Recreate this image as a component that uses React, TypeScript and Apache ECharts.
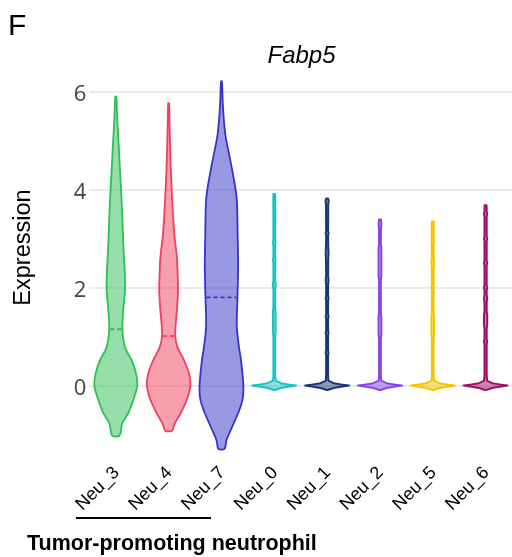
import React, { useEffect, useRef } from 'react';
import * as echarts from 'echarts';

const panelLabel = 'F';
const chartTitle = 'Fabp5';
const yAxisName = 'Expression';
const groupLabel = 'Tumor-promoting neutrophil';

const categories = ['Neu_3', 'Neu_4', 'Neu_7', 'Neu_0', 'Neu_1', 'Neu_2', 'Neu_5', 'Neu_6'];
const colors = ['#2fbf55', '#f0405c', '#3434c8', '#18c4be', '#1e3575', '#8a44e4', '#f7c400', '#a01060'];
const medians = [1.15, 1.01, 1.8, null, null, null, null, null];
const yTicks = [0, 2, 4, 6];

// density profiles: [expression value, relative half-width]
const profNeu3 = [[-1.02, 0.17], [-0.77, 0.29], [-0.56, 0.57], [-0.29, 0.8], [0, 0.98], [0.25, 0.92], [0.52, 0.72], [0.78, 0.42], [1.15, 0.3], [1.55, 0.34], [1.94, 0.42], [2.3, 0.41], [2.7, 0.36], [3.04, 0.33], [3.4, 0.3], [3.72, 0.27], [4.0, 0.24], [4.4, 0.19], [4.75, 0.15], [5.08, 0.11], [5.42, 0.07], [5.76, 0.04], [5.9, 0.02]];
const profNeu4 = [[-0.92, 0.15], [-0.77, 0.28], [-0.56, 0.55], [-0.29, 0.83], [0, 0.99], [0.25, 0.93], [0.52, 0.7], [0.78, 0.41], [1.01, 0.3], [1.3, 0.33], [1.55, 0.38], [1.94, 0.43], [2.3, 0.41], [2.6, 0.38], [3.04, 0.27], [3.4, 0.21], [3.72, 0.17], [4.4, 0.1], [4.99, 0.06], [5.4, 0.04], [5.76, 0.02]];
const profNeu7 = [[-1.29, 0.14], [-1.11, 0.23], [-0.84, 0.49], [-0.56, 0.76], [-0.29, 0.96], [0, 1.0], [0.52, 0.89], [0.78, 0.8], [1.21, 0.7], [1.8, 0.73], [2.36, 0.76], [2.56, 0.76], [3.04, 0.74], [3.72, 0.71], [3.99, 0.65], [4.4, 0.49], [4.74, 0.34], [5.08, 0.19], [5.42, 0.11], [5.76, 0.06], [6.21, 0.02]];
const profNeu0 = [[-0.09, 0.02], [-0.05, 0.3], [-0.02, 0.7], [0, 1.0], [0.02, 0.7], [0.05, 0.3], [0.1, 0.06], [0.2, 0.04], [1.0, 0.04], [1.1, 0.06], [1.5, 0.06], [1.6, 0.04], [1.95, 0.04], [2.05, 0.065], [2.15, 0.04], [2.5, 0.04], [2.56, 0.06], [2.62, 0.04], [2.85, 0.04], [2.92, 0.06], [3.0, 0.04], [3.85, 0.045], [3.91, 0.04]];
const profNeu1 = [[-0.09, 0.02], [-0.05, 0.3], [-0.02, 0.7], [0, 1.0], [0.02, 0.7], [0.05, 0.3], [0.1, 0.06], [0.2, 0.045], [0.62, 0.045], [0.67, 0.065], [0.72, 0.045], [1.02, 0.045], [1.07, 0.065], [1.12, 0.045], [1.36, 0.045], [1.41, 0.065], [1.46, 0.045], [1.73, 0.045], [1.78, 0.065], [1.83, 0.045], [2.05, 0.045], [2.15, 0.065], [2.25, 0.045], [2.55, 0.05], [2.7, 0.065], [2.85, 0.05], [3.06, 0.045], [3.11, 0.065], [3.16, 0.045], [3.7, 0.05], [3.76, 0.075], [3.82, 0.045]];
const profNeu2 = [[-0.09, 0.02], [-0.05, 0.3], [-0.02, 0.7], [0, 1.0], [0.02, 0.7], [0.05, 0.3], [0.1, 0.06], [0.2, 0.04], [0.95, 0.04], [1.05, 0.065], [1.4, 0.065], [1.5, 0.04], [2.15, 0.04], [2.25, 0.065], [2.8, 0.065], [2.9, 0.04], [3.2, 0.045], [3.3, 0.065], [3.39, 0.045]];
const profNeu5 = [[-0.09, 0.02], [-0.05, 0.3], [-0.02, 0.7], [0, 1.0], [0.02, 0.7], [0.05, 0.3], [0.1, 0.06], [0.2, 0.04], [0.95, 0.04], [1.05, 0.06], [1.4, 0.06], [1.5, 0.04], [1.95, 0.04], [2.0, 0.06], [2.05, 0.04], [2.4, 0.045], [2.5, 0.06], [2.6, 0.045], [2.92, 0.045], [2.96, 0.06], [3.0, 0.045], [3.28, 0.05], [3.35, 0.045]];
const profNeu6 = [[-0.09, 0.02], [-0.05, 0.3], [-0.02, 0.7], [0, 1.0], [0.02, 0.7], [0.05, 0.3], [0.1, 0.07], [0.2, 0.05], [0.85, 0.05], [0.9, 0.075], [0.95, 0.05], [1.15, 0.05], [1.25, 0.075], [1.45, 0.075], [1.5, 0.05], [1.7, 0.05], [1.78, 0.075], [1.85, 0.05], [1.95, 0.05], [2.0, 0.075], [2.05, 0.05], [2.45, 0.05], [2.5, 0.075], [2.55, 0.05], [2.95, 0.05], [3.0, 0.075], [3.05, 0.05], [3.45, 0.05], [3.5, 0.075], [3.55, 0.05], [3.62, 0.05], [3.68, 0.04]];
const profiles = [profNeu3, profNeu4, profNeu7, profNeu0, profNeu1, profNeu2, profNeu5, profNeu6];

function hexToRgba(hex: string, a: number) {
  const n = parseInt(hex.slice(1), 16);
  return `rgba(${(n >> 16) & 255},${(n >> 8) & 255},${n & 255},${a})`;
}

export default function App() {
  const ref = useRef<HTMLDivElement>(null);
  useEffect(() => {
    if (!ref.current) return;
    const chart = echarts.init(ref.current, null, { renderer: 'svg' });
    const renderItem = (params: any, api: any) => {
      const i = api.value(0);
      const prof = profiles[i];
      const band = api.size([1, 0])[0];
      const maxHW = band * 0.415;
      const right = prof.map(([v, d]) => {
        const c = api.coord([i, v]);
        return [c[0] + d * maxHW, c[1]];
      });
      const left = prof.slice().reverse().map(([v, d]) => {
        const c = api.coord([i, v]);
        return [c[0] - d * maxHW, c[1]];
      });
      const wide = i < 3;
      const children: any[] = [
        {
          type: 'polygon',
          shape: { points: [...right, ...left], smooth: wide ? 0.3 : 0 },
          style: { fill: hexToRgba(colors[i], 0.5), stroke: colors[i], lineWidth: wide ? 1.8 : 2, lineJoin: 'round' },
        },
      ];
      const med = medians[i];
      if (med !== null && med !== undefined) {
        let d = 0;
        for (let k = 0; k < prof.length - 1; k++) {
          const [v0, d0] = prof[k];
          const [v1, d1] = prof[k + 1];
          if (med >= v0 && med <= v1) {
            d = d0 + ((med - v0) / (v1 - v0)) * (d1 - d0);
            break;
          }
        }
        const c = api.coord([i, med]);
        const hw = d * maxHW;
        children.push({
          type: 'line',
          shape: { x1: c[0] - hw + 1, y1: c[1], x2: c[0] + hw - 1, y2: c[1] },
          style: { stroke: colors[i], lineWidth: 1.8, lineDash: [4, 3] },
        });
      }
      return { type: 'group', children };
    };

    chart.setOption({
      animation: false,
      grid: { left: 89.4, top: 72, width: 426, height: 382.2, containLabel: false },
      xAxis: {
        type: 'category',
        data: categories,
        boundaryGap: true,
        axisLine: { show: false },
        axisTick: { show: false },
        splitLine: { show: false },
        axisLabel: {
          interval: 0,
          rotate: 45,
          margin: 15,
          color: '#000',
          fontSize: 18,
          fontFamily: 'Liberation Sans, Arial, sans-serif',
        },
      },
      yAxis: {
        type: 'value',
        min: -1.4,
        max: 6.4,
        splitNumber: 4,
        axisLine: { show: false },
        axisTick: { show: false },
        splitLine: { show: false },
        axisLabel: {
          margin: 3,
          color: '#444',
          fontSize: 22,
          fontFamily: 'Open Sans, sans-serif',
          showMinLabel: false,
          showMaxLabel: false,
          formatter: (v: number) => (yTicks.includes(v) ? String(v) : ''),
        },
      },
      series: [
        {
          type: 'line',
          data: [],
          z: 1,
          markLine: {
            silent: true,
            z: 1,
            symbol: ['none', 'none'],
            label: { show: false },
            lineStyle: { color: '#ebebeb', width: 2, type: 'solid' },
            data: yTicks.map((v) => ({ yAxis: v })),
          },
        },
        {
          type: 'custom',
          z: 3,
          renderItem,
          encode: { x: 0, y: 1 },
          data: categories.map((c, i) => [i, medians[i] ?? 0]),
        },
      ],
      graphic: [
        {
          type: 'text',
          x: 8,
          y: 24,
          style: { text: panelLabel, fontSize: 30, fontFamily: 'Liberation Sans, Arial, sans-serif', fill: '#000', textVerticalAlign: 'middle' },
        },
        {
          type: 'text',
          x: 301.5,
          y: 54,
          style: { text: chartTitle, fontSize: 24, fontStyle: 'italic', fontFamily: 'Liberation Sans, Arial, sans-serif', fill: '#000', textAlign: 'center', textVerticalAlign: 'middle' },
        },
        {
          type: 'text',
          x: 22,
          y: 247.5,
          rotation: Math.PI / 2,
          style: { text: yAxisName, fontSize: 23.5, fontFamily: 'Liberation Sans, Arial, sans-serif', fill: '#000', textAlign: 'center', textVerticalAlign: 'middle' },
        },
        {
          type: 'line',
          shape: { x1: 76, y1: 518, x2: 211, y2: 518 },
          style: { stroke: '#000', lineWidth: 2 },
        },
        {
          type: 'text',
          x: 27,
          y: 542.5,
          style: { text: groupLabel, fontSize: 21.5, fontWeight: 'bold', fontFamily: 'Liberation Sans, Arial, sans-serif', fill: '#000', textVerticalAlign: 'middle' },
        },
      ],
    });
    return () => chart.dispose();
  }, []);
  return <div ref={ref} style={{ position: 'fixed', left: 0, top: 0, width: 512, height: 557 }} />;
}
